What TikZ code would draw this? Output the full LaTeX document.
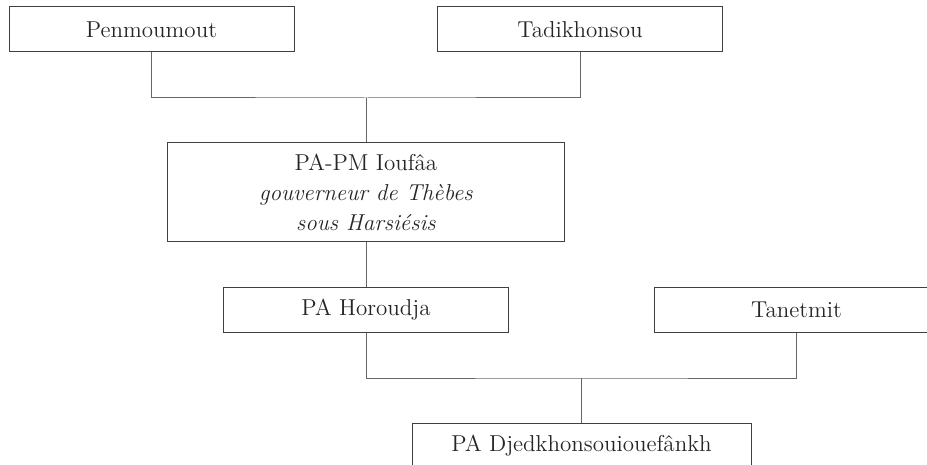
\documentclass[tikz,border=0pt]{standalone}
\usepackage{tikz}
\usetikzlibrary{positioning, calc}

\begin{document}
\begin{tikzpicture}[
    x=0.5pt, y=-0.5pt,
    every node/.style={font=\fontsize{11.5}{15}\selectfont, text=black!85},
    personne/.style={draw=black!75, line width=0.5pt, fill=white, inner sep=0pt,
                     minimum width=142.5pt, minimum height=22.5pt},
    lien/.style={draw=black!60, line width=0.5pt}
]

\def\W{927}   % largeur de l'image
\def\H{465}   % hauteur de l'image

% cadre (la figure est coupee a droite et en bas)
\path[use as bounding box, clip] (0,0) rectangle (\W,\H);

% generation 1
\node[personne] (pen)  at (151.5, 29.5) {Penmoumout};
\node[personne] (tadi) at (580, 29.5)   {Tadikhonsou};

% generation 2
\node[personne, minimum width=198.5pt, minimum height=49pt, align=center] (iou) at (366, 192)
    {PA-PM Ioufâa\\\textit{gouverneur de Thèbes}\\\textit{sous Harsiésis}};

% generation 3
\node[personne] (horo) at (366, 309.5)   {PA Horoudja};
\node[personne] (tane) at (796.5, 309.5) {Tanetmit};

% generation 4
\node[personne, minimum width=169.5pt] (djed) at (581.5, 445.5) {PA Djedkhonsouiouefânkh};

% liens
\coordinate (j1) at (366, 98);
\coordinate (j2) at (581.5, 378);
\draw[lien] (pen.south) |- (j1) -| (tadi.south);
\draw[lien] (j1) -- (iou.north);
\draw[lien] (iou.south) -- (horo.north);
\draw[lien] (horo.south) |- (j2) -| (tane.south);
\draw[lien] (j2) -- (djed.north);

\end{tikzpicture}
\end{document}
